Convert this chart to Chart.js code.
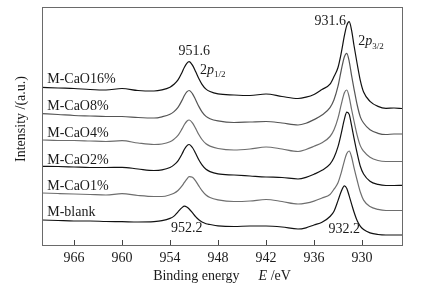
<!DOCTYPE html>
<html>
<head>
<meta charset="utf-8">
<script src="https://cdn.jsdelivr.net/npm/chart.js@4.4.1/dist/chart.umd.min.js"></script>
<style>
  html, body { margin: 0; padding: 0; background: #fff; }
  #wrap { width: 443px; height: 289px; }
</style>
</head>
<body>
<div id="wrap"><canvas id="xps"></canvas></div>
<script>
// binding energy grid (eV)
const energy = [970, 968, 966, 964, 962, 960, 958, 956, 955, 954, 953.5, 953, 952.5, 952.2, 951.9, 951.6, 951.2, 950.8, 950.4, 950, 949.5, 949, 948, 946, 944, 942, 940, 938, 937, 936, 935, 934, 933.5, 933, 932.6, 932.2, 931.9, 931.6, 931.3, 931, 930.6, 930.2, 929.8, 929, 928, 927, 926, 925];

// intensities (a.u., curves already stacked)
const cao16 = [157.7, 157, 156.5, 155.5, 155, 156.5, 154.5, 154, 155.1, 157.8, 160.7, 165.1, 172.6, 177.8, 181.7, 183.3, 179.8, 173.5, 166.5, 160.7, 155.9, 153.5, 151.1, 150, 149.5, 151, 148.5, 146.5, 147.8, 150.5, 155.5, 160.8, 168.4, 177.5, 191.8, 209.3, 219.6, 223.3, 214.7, 199.5, 181, 164.1, 152.9, 143.7, 138.6, 136.7, 137, 136.5];
const cao8 = [131.3, 130.5, 129.5, 129, 128.5, 128.5, 127.5, 127, 128.2, 130.7, 133.4, 137.6, 144.6, 149.5, 153.1, 154.5, 151.4, 145.3, 138.6, 133.2, 128.6, 126.3, 124.1, 122.5, 123, 123.5, 122, 120, 121.8, 125.4, 129.9, 137.4, 145.3, 158.8, 174.5, 188.3, 191.7, 183.6, 169.3, 156.2, 140, 127.9, 122, 115.2, 111.7, 110.5, 111, 111];
const cao4 = [105, 104.5, 104.5, 104, 103.5, 104.3, 102, 100.5, 101, 103.3, 105.8, 109.6, 116.1, 120.5, 123.8, 125, 122.1, 116.6, 110.5, 105.5, 101.2, 98.9, 96.5, 95, 96, 98, 96, 93.5, 95.5, 98.7, 102.3, 108.5, 115.2, 126.8, 140.3, 152.2, 155, 147.9, 135.5, 124, 109.7, 99.1, 93.8, 87.7, 84.5, 83.5, 83.5, 83.5];
const cao2 = [78.7, 78.5, 78, 77.5, 77.5, 77.7, 76, 74.5, 75.1, 77.5, 80.1, 84.2, 91, 95.7, 99.2, 100.5, 97.5, 91.7, 85.3, 80.1, 75.7, 73.4, 71.1, 70, 69, 68, 67.5, 66, 67.6, 70.8, 74.7, 80.8, 87.4, 98.3, 111.4, 125.9, 132.9, 130.6, 119.3, 106.9, 91.6, 78.5, 71, 63.8, 60.6, 59.5, 59.5, 59.7];
const cao1 = [52, 51.5, 51, 50.5, 50, 51.3, 49.5, 48.5, 48.5, 50.2, 51.8, 54.5, 59.1, 62.6, 65.9, 68.3, 67.7, 64.1, 59.1, 54.4, 50, 47.5, 45.2, 43.5, 44, 45.5, 43.5, 41, 41.9, 43.9, 47, 50.5, 55.8, 62.2, 72.1, 84.2, 91.4, 94, 88, 77.4, 64.5, 52.7, 44.9, 38.5, 35.6, 34.5, 34.5, 34.5];
const blank = [25, 24.5, 24, 24, 23.5, 23.3, 23, 23.4, 24.3, 26.6, 28.9, 33.2, 37.4, 38.8, 38, 36, 32.3, 28.3, 25.2, 22.9, 21.3, 20.5, 19.2, 18.5, 19, 19, 18, 16, 17.2, 20, 22.7, 28.5, 33.8, 44.4, 53.5, 59.2, 56.5, 49.1, 40.9, 33, 24.2, 18.6, 15.4, 12.1, 10.5, 10, 10, 10];

const seriesNames = ['M-CaO16%', 'M-CaO8%', 'M-CaO4%', 'M-CaO2%', 'M-CaO1%', 'M-blank'];
const seriesData = [cao16, cao8, cao4, cao2, cao1, blank];
const seriesColors = ['#111', '#555', '#6e6e6e', '#111', '#6e6e6e', '#111'];

const tickValues = [966, 960, 954, 948, 942, 936, 930];

// text notes placed in data coordinates
const nameAnchorE = 969.35;
const nameAnchorV = [165.5, 138.3, 111.7, 85, 58.3, 32.2];
const peakNotes = [
  { text: '951.6', e: 950.98, v: 193.3 },
  { text: '931.6', e: 933.96, v: 223.3 },
  { text: '952.2', e: 951.91, v: 16.7 },
  { text: '932.2', e: 932.22, v: 15.7 }
];
const orbitalNotes = [
  { sub: '1/2', e: 950.25, v: 175 },
  { sub: '3/2', e: 930.46, v: 203.3 }
];

const inkColor = '#1a1a1a';
const serif = '"Liberation Serif", "Times New Roman", serif';

function drawParts(ctx, x, y, parts) {
  let cx = x;
  parts.forEach(function(p) {
    ctx.font = p.font;
    ctx.fillText(p.text, cx, y + (p.dy || 0));
    cx += ctx.measureText(p.text).width + (p.gap || 0);
  });
}
function partsWidth(ctx, parts) {
  let w = 0;
  parts.forEach(function(p) {
    ctx.font = p.font;
    w += ctx.measureText(p.text).width + (p.gap || 0);
  });
  return w;
}

const labelPlugin = {
  id: 'xpsLabels',
  afterDraw(chart) {
    const ctx = chart.ctx;
    const a = chart.chartArea;
    const x = chart.scales.x, y = chart.scales.y;
    ctx.save();
    // frame
    ctx.strokeStyle = '#6a6a6a';
    ctx.lineWidth = 1;
    ctx.strokeRect(Math.round(a.left) + 0.5, Math.round(a.top) + 0.5,
      Math.round(a.right - a.left), Math.round(a.bottom - a.top));

    ctx.fillStyle = inkColor;
    ctx.textBaseline = 'middle';
    ctx.font = '14px ' + serif;
    ctx.textAlign = 'left';
    seriesNames.forEach(function(n, i) {
      ctx.fillText(n, x.getPixelForValue(nameAnchorE), y.getPixelForValue(nameAnchorV[i]));
    });
    ctx.textAlign = 'center';
    peakNotes.forEach(function(p) {
      ctx.fillText(p.text, x.getPixelForValue(p.e), y.getPixelForValue(p.v));
    });
    ctx.textAlign = 'left';
    orbitalNotes.forEach(function(o) {
      drawParts(ctx, x.getPixelForValue(o.e), y.getPixelForValue(o.v), [
        { text: '2', font: '14px ' + serif },
        { text: 'p', font: 'italic 14px ' + serif },
        { text: o.sub, font: '9px ' + serif, dy: 5 }
      ]);
    });

    // x axis title with italic E
    const xt = [
      { text: 'Binding energy', font: '14px ' + serif, gap: 19 },
      { text: 'E', font: 'italic 14px ' + serif },
      { text: ' /eV', font: '14px ' + serif }
    ];
    const w = partsWidth(ctx, xt);
    drawParts(ctx, (a.left + a.right) / 2 - w / 2, 276, xt);

    // y axis title
    ctx.translate(21, 119);
    ctx.rotate(-Math.PI / 2);
    ctx.textAlign = 'center';
    ctx.font = '14px ' + serif;
    ctx.fillText('Intensity /(a.u.)', 0, 0);
    ctx.restore();
  }
};

const datasets = seriesData.map(function(vals, i) {
  return {
    label: seriesNames[i],
    data: energy.map(function(e, j) { return { x: e, y: vals[j] }; }),
    borderColor: seriesColors[i],
    borderWidth: 1.2,
    pointRadius: 0,
    fill: false,
    cubicInterpolationMode: 'monotone'
  };
});

new Chart(document.getElementById('xps').getContext('2d'), {
  type: 'line',
  data: { datasets: datasets },
  options: {
    responsive: true,
    maintainAspectRatio: false,
    animation: false,
    devicePixelRatio: 1,
    layout: { padding: { top: 7, right: 41, left: 0, bottom: 0 } },
    plugins: { legend: { display: false }, tooltip: { enabled: false } },
    scales: {
      x: {
        type: 'linear',
        min: 925,
        max: 970,
        reverse: true,
        afterBuildTicks: function(s) { s.ticks = tickValues.map(function(v) { return { value: v }; }); },
        afterFit: function(s) { s.height = 44; },
        ticks: { font: { family: serif, size: 14 }, color: inkColor, padding: 10, maxRotation: 0, autoSkip: false },
        grid: { display: true, drawOnChartArea: false, drawTicks: true, tickLength: -5, color: '#444' },
        border: { display: false }
      },
      y: {
        min: 0,
        max: 238,
        afterFit: function(s) { s.width = 42; },
        ticks: { display: false },
        grid: { display: false },
        border: { display: false }
      }
    }
  },
  plugins: [labelPlugin]
});
</script>
</body>
</html>
